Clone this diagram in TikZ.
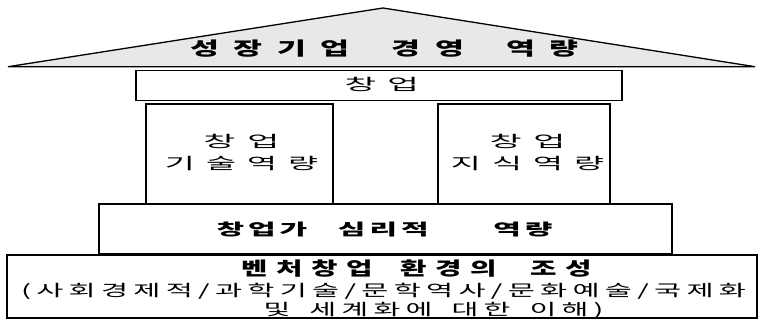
\documentclass[tikz,border=0pt]{standalone}
\usepackage{fontspec}
\newfontfamily\kr{Noto Sans CJK KR}
\newcommand\ktext[4]{% width, size, letterspace, text
  \resizebox{#1}{\height}{\kr\fontsize{#2}{#2}\selectfont\addfontfeatures{LetterSpace=#3}#4}}
\newcommand\ktextb[4]{%
  \resizebox{#1}{\height}{\kr\bfseries\fontsize{#2}{#2}\selectfont\addfontfeatures{LetterSpace=#3}#4}}
\tikzset{
  box/.style={draw=black, line width=1.3pt, fill=white, inner sep=0pt, outer sep=0pt},
  roof/.style={draw=black, line width=1.3pt, fill=black!9, line join=miter},
  txt/.style={inner sep=0pt, outer sep=0pt, text=black}
}
\begin{document}
\begin{tikzpicture}[x=1pt,y=-1pt]
\useasboundingbox (0,0) rectangle (759,320);
\fill[white] (0,0) rectangle (759,320);
% roof
\coordinate (rl) at (8,66.7);
\coordinate (ra) at (383,8);
\coordinate (rr) at (755,66.7);
\draw[roof] (rl) -- (ra) -- (rr) -- cycle;
\node[txt, anchor=west] (title) at (190.5,48.5)
  {\ktextb{388pt}{18.5}{46}{성장기업\hspace{24.8pt}경영\hspace{24.8pt}역량}};
% top box
\node[box, minimum width=486pt, minimum height=30pt] (topbox) at (379,85.7) {};
\node[txt, anchor=west] (toptext) at (344.5,84.5)
  {\ktext{74.5pt}{16}{33}{창업}};
% columns
\node[box, minimum width=187pt, minimum height=100pt] (lcol) at (239.5,154) {};
\node[box, minimum width=172pt, minimum height=100pt] (rcol) at (524,154) {};
\node[txt, align=center, font={\fontsize{16}{21.5}\selectfont}] (ltext) at (241.5,152.3)
  {\ktext{76pt}{16}{34}{창업}\\\ktext{153pt}{16}{34}{기술역량}};
\node[txt, align=center, font={\fontsize{16}{21.5}\selectfont}] (rtext) at (527.5,152.3)
  {\ktext{76pt}{16}{34}{창업}\\\ktext{153pt}{16}{34}{지식역량}};
% middle box
\node[box, minimum width=573pt, minimum height=50pt] (midbox) at (385.5,229) {};
\node[txt, anchor=west] (midtext) at (216.5,230)
  {\ktextb{336pt}{16}{13.5}{창업가\hspace{16.4pt}심리적\hspace{34.6pt}역량}};
% bottom box
\node[box, minimum width=750pt, minimum height=63pt] (botbox) at (382,286.5) {};
\node[txt, anchor=west] (bot1) at (241.5,269)
  {\ktextb{350pt}{18.5}{30}{벤처창업\hspace{17.7pt}환경의\hspace{21.2pt}조성}};
\node[txt, anchor=west] (bot2) at (21,291)
  {\ktext{725pt}{16}{18}{(사회경제적/과학기술/문학역사/문화예술/국제화}};
\node[txt, anchor=west] (bot3) at (263.5,310)
  {\ktext{340pt}{16}{18}{및\hspace{10.5pt}세계화에\hspace{10.5pt}대한\hspace{10.5pt}이해)}};
\end{tikzpicture}
\end{document}
